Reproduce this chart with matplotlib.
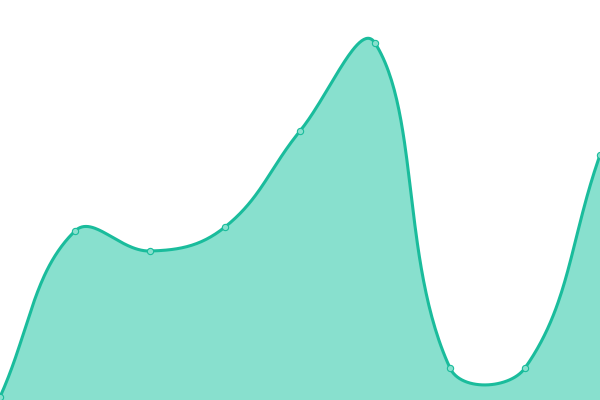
import numpy as np
import matplotlib
matplotlib.use("Agg")
import matplotlib.pyplot as plt

# values (0 = bottom edge, 400 = top edge)
labels = ["1", "2", "3", "4", "5", "6", "7", "8", "9"]
values = [3, 169, 149, 173, 269, 357, 32, 32, 245]

line_col = "#1abc9c"
fill_col = "#88e0ce"
tension = 0.4


def spline_controls(pts, t):
    # chart.js style control points, computed in pixel space
    ctrl = []
    n = len(pts)
    for i in range(n):
        prev = pts[i - 1] if i > 0 else pts[i]
        cur = pts[i]
        nxt = pts[i + 1] if i < n - 1 else pts[i]
        d01 = np.hypot(*(cur - prev))
        d12 = np.hypot(*(nxt - cur))
        tot = d01 + d12
        s01 = d01 / tot if tot else 0
        s12 = d12 / tot if tot else 0
        before = cur - t * s01 * (nxt - prev)
        after = cur + t * s12 * (nxt - prev)
        ctrl.append((before, after))
    return ctrl


fig = plt.figure(figsize=(6, 4), dpi=100)
ax = fig.add_axes([0, 0, 1, 1])
ax.set_xlim(0, len(values) - 1)
ax.set_ylim(0, 400)
ax.axis("off")

x = np.arange(len(values))
pix = ax.transData.transform(np.column_stack([x, values]))
ctrl = spline_controls(pix, tension)

curve = []
ts = np.linspace(0, 1, 60)[:, None]
for i in range(len(pix) - 1):
    p0 = pix[i]
    p1 = ctrl[i][1]
    p2 = ctrl[i + 1][0]
    p3 = pix[i + 1]
    seg = ((1 - ts) ** 3) * p0 + 3 * ((1 - ts) ** 2) * ts * p1 \
        + 3 * (1 - ts) * ts ** 2 * p2 + ts ** 3 * p3
    curve.append(seg if i == 0 else seg[1:])
curve = ax.transData.inverted().transform(np.vstack(curve))

ax.fill_between(curve[:, 0], 0, curve[:, 1], color=fill_col, lw=0, zorder=1)
ax.plot(curve[:, 0], curve[:, 1], color=line_col, lw=2.2, zorder=2,
        solid_capstyle="round")
ax.plot(x, values, "o", ms=4.5, mfc=fill_col, mec=line_col, mew=0.8,
        zorder=3, clip_on=False)

fig.savefig("out.png", dpi=100)
